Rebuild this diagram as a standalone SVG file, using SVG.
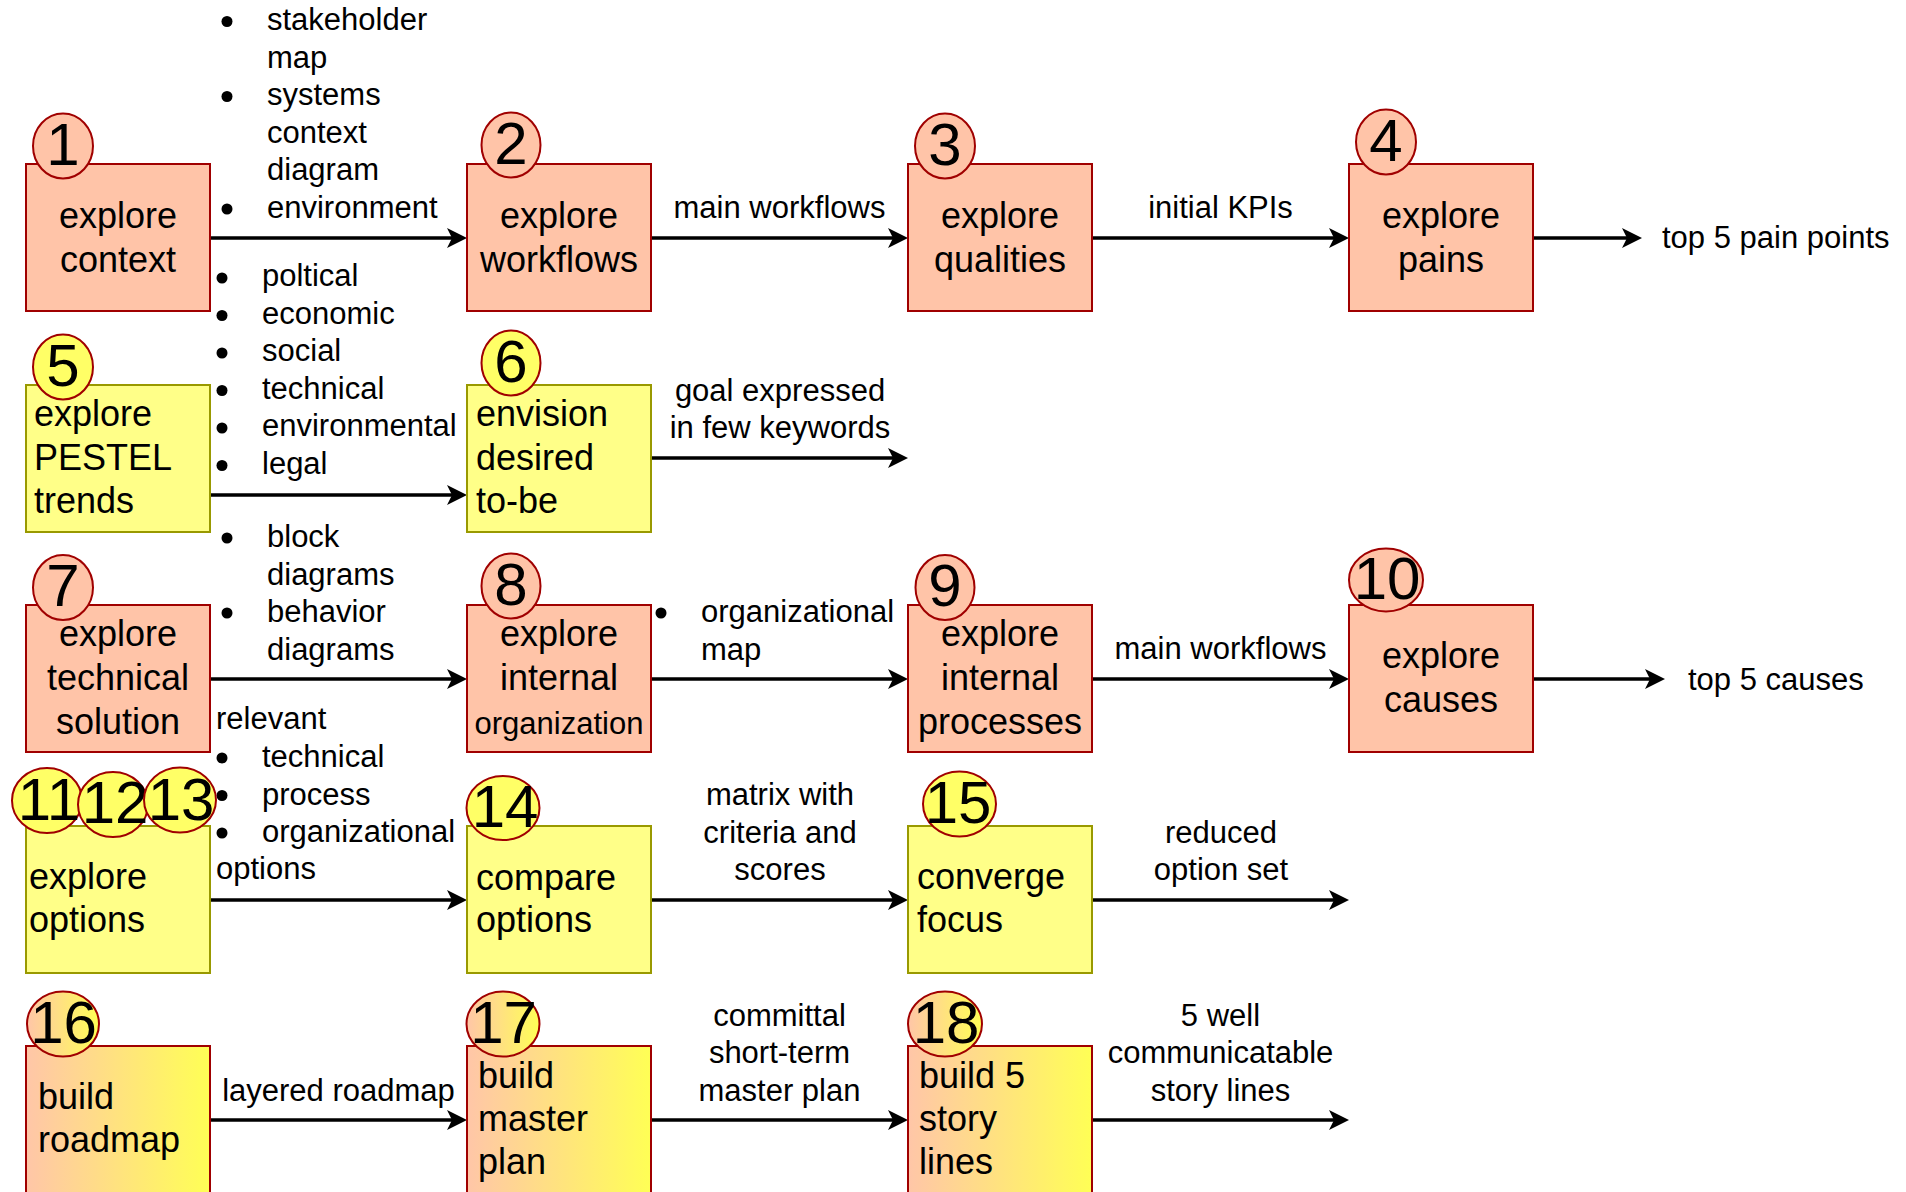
<svg xmlns="http://www.w3.org/2000/svg" width="1906" height="1192" viewBox="0 0 1906 1192">
<defs>
<linearGradient id="grad" x1="0" y1="0" x2="1" y2="0">
<stop offset="0" stop-color="#ffc6a8"/>
<stop offset="1" stop-color="#ffff55"/>
</linearGradient>
<marker id="ah" markerWidth="22" markerHeight="22" refX="10" refY="10" orient="auto" markerUnits="userSpaceOnUse">
<path d="M0,0 L20,10 L0,20 L5,10 z" fill="#000"/>
</marker>
<style>
text{font-family:"Liberation Sans",Arial,sans-serif;fill:#000}
.box-s{fill:#ffc4a8;stroke:#a00000;stroke-width:2}
.box-y{fill:#ffff88;stroke:#999900;stroke-width:2}
.box-g{fill:url(#grad);stroke:#a00000;stroke-width:2}
.c-s{fill:#ffc4a8;stroke:#a00000;stroke-width:2}
.c-y{fill:#ffff66;stroke:#a00000;stroke-width:2}
.c-g{fill:url(#grad);stroke:#a00000;stroke-width:2}
.num{font-size:60px;text-anchor:middle}
.nt{font-size:36px}
.ntc{font-size:36px;text-anchor:middle}
.lb{font-size:31px}
.lbc{font-size:31px;text-anchor:middle}
.arr{stroke:#000;stroke-width:3.5;fill:none;marker-end:url(#ah)}
.bul{fill:#000}
</style>
</defs>
<rect width="1906" height="1192" fill="#fff"/>

<g id="connectors">
<line class="arr" x1="210" y1="238" x2="457" y2="238"/>
<line class="arr" x1="651" y1="238" x2="898" y2="238"/>
<line class="arr" x1="1092" y1="238" x2="1339" y2="238"/>
<line class="arr" x1="1533" y1="238" x2="1632" y2="238"/>
<line class="arr" x1="210" y1="495" x2="457" y2="495"/>
<line class="arr" x1="651" y1="458" x2="898" y2="458"/>
<line class="arr" x1="210" y1="679" x2="457" y2="679"/>
<line class="arr" x1="651" y1="679" x2="898" y2="679"/>
<line class="arr" x1="1092" y1="679" x2="1339" y2="679"/>
<line class="arr" x1="1533" y1="679" x2="1655" y2="679"/>
<line class="arr" x1="210" y1="900" x2="457" y2="900"/>
<line class="arr" x1="651" y1="900" x2="898" y2="900"/>
<line class="arr" x1="1092" y1="900" x2="1339" y2="900"/>
<line class="arr" x1="210" y1="1120" x2="457" y2="1120"/>
<line class="arr" x1="651" y1="1120" x2="898" y2="1120"/>
<line class="arr" x1="1092" y1="1120" x2="1339" y2="1120"/>
</g>

<g id="labels">
<g id="l1-2">
<circle class="bul" cx="227" cy="21.5" r="5.5"/>
<circle class="bul" cx="227" cy="96.5" r="5.5"/>
<circle class="bul" cx="227" cy="209" r="5.5"/>
<text class="lb" x="267" y="30">stakeholder</text>
<text class="lb" x="267" y="67.5">map</text>
<text class="lb" x="267" y="105">systems</text>
<text class="lb" x="267" y="142.5">context</text>
<text class="lb" x="267" y="180">diagram</text>
<text class="lb" x="267" y="217.5">environment</text>
</g>
<text class="lbc" x="779.5" y="218">main workflows</text>
<text class="lbc" x="1220.5" y="218">initial KPIs</text>
<text class="lb" x="1662" y="248">top 5 pain points</text>
<g id="l5-6">
<circle class="bul" cx="222" cy="278" r="5.5"/>
<circle class="bul" cx="222" cy="315.5" r="5.5"/>
<circle class="bul" cx="222" cy="353" r="5.5"/>
<circle class="bul" cx="222" cy="390.5" r="5.5"/>
<circle class="bul" cx="222" cy="428" r="5.5"/>
<circle class="bul" cx="222" cy="465.5" r="5.5"/>
<text class="lb" x="262" y="286">poltical</text>
<text class="lb" x="262" y="323.5">economic</text>
<text class="lb" x="262" y="361">social</text>
<text class="lb" x="262" y="398.5">technical</text>
<text class="lb" x="262" y="436">environmental</text>
<text class="lb" x="262" y="473.5">legal</text>
</g>
<text class="lbc" x="780" y="401">goal expressed</text>
<text class="lbc" x="780" y="438">in few keywords</text>
<g id="l7-8">
<circle class="bul" cx="227" cy="538" r="5.5"/>
<circle class="bul" cx="227" cy="613" r="5.5"/>
<text class="lb" x="267" y="547">block</text>
<text class="lb" x="267" y="584.5">diagrams</text>
<text class="lb" x="267" y="622">behavior</text>
<text class="lb" x="267" y="659.5">diagrams</text>
</g>
<g id="l8-9">
<circle class="bul" cx="661" cy="613" r="5.5"/>
<text class="lb" x="701" y="622">organizational</text>
<text class="lb" x="701" y="659.5">map</text>
</g>
<text class="lbc" x="1220.5" y="659">main workflows</text>
<text class="lb" x="1688" y="690">top 5 causes</text>
<g id="l11-14">
<text class="lb" x="216" y="729">relevant</text>
<circle class="bul" cx="222" cy="758" r="5.5"/>
<circle class="bul" cx="222" cy="795.5" r="5.5"/>
<circle class="bul" cx="222" cy="833" r="5.5"/>
<text class="lb" x="262" y="767">technical</text>
<text class="lb" x="262" y="804.5">process</text>
<text class="lb" x="262" y="842">organizational</text>
<text class="lb" x="216" y="879">options</text>
</g>
<text class="lbc" x="780" y="805">matrix with</text>
<text class="lbc" x="780" y="842.5">criteria and</text>
<text class="lbc" x="780" y="880">scores</text>
<text class="lbc" x="1221" y="843">reduced</text>
<text class="lbc" x="1221" y="880">option set</text>
<text class="lbc" x="338.5" y="1101">layered roadmap</text>
<text class="lbc" x="779.5" y="1026">committal</text>
<text class="lbc" x="779.5" y="1063">short-term</text>
<text class="lbc" x="779.5" y="1100.5">master plan</text>
<text class="lbc" x="1220.5" y="1026">5 well</text>
<text class="lbc" x="1220.5" y="1063">communicatable</text>
<text class="lbc" x="1220.5" y="1100.5">story lines</text>
</g>

<g id="node1">
<rect class="box-s" x="26" y="164" width="184" height="147"/>
<text class="ntc" x="118" y="228">explore</text>
<text class="ntc" x="118" y="272">context</text>
<ellipse class="c-s" cx="63" cy="146" rx="30" ry="32.5"/>
<text class="num" x="63" y="165">1</text>
</g>
<g id="node2">
<rect class="box-s" x="467" y="164" width="184" height="147"/>
<text class="ntc" x="559" y="228">explore</text>
<text class="ntc" x="559" y="272">workflows</text>
<ellipse class="c-s" cx="511" cy="145" rx="29.5" ry="32.5"/>
<text class="num" x="511" y="164">2</text>
</g>
<g id="node3">
<rect class="box-s" x="908" y="164" width="184" height="147"/>
<text class="ntc" x="1000" y="228">explore</text>
<text class="ntc" x="1000" y="272">qualities</text>
<ellipse class="c-s" cx="945" cy="146" rx="30" ry="32.5"/>
<text class="num" x="945" y="165">3</text>
</g>
<g id="node4">
<rect class="box-s" x="1349" y="164" width="184" height="147"/>
<text class="ntc" x="1441" y="228">explore</text>
<text class="ntc" x="1441" y="272">pains</text>
<ellipse class="c-s" cx="1386" cy="142" rx="30" ry="32.5"/>
<text class="num" x="1386" y="161">4</text>
</g>
<g id="node5">
<rect class="box-y" x="26" y="385" width="184" height="147"/>
<text class="nt" x="34" y="426">explore</text>
<text class="nt" x="34" y="469.5">PESTEL</text>
<text class="nt" x="34" y="513">trends</text>
<ellipse class="c-y" cx="63" cy="367" rx="30" ry="32.5"/>
<text class="num" x="63" y="386">5</text>
</g>
<g id="node6">
<rect class="box-y" x="467" y="385" width="184" height="147"/>
<text class="nt" x="476" y="426">envision</text>
<text class="nt" x="476" y="469.5">desired</text>
<text class="nt" x="476" y="513">to-be</text>
<ellipse class="c-y" cx="511" cy="363" rx="29.5" ry="32.5"/>
<text class="num" x="511" y="382">6</text>
</g>
<g id="node7">
<rect class="box-s" x="26" y="605" width="184" height="147"/>
<text class="ntc" x="118" y="646">explore</text>
<text class="ntc" x="118" y="690">technical</text>
<text class="ntc" x="118" y="734">solution</text>
<ellipse class="c-s" cx="63" cy="587.5" rx="30" ry="32.5"/>
<text class="num" x="63" y="606">7</text>
</g>
<g id="node8">
<rect class="box-s" x="467" y="605" width="184" height="147"/>
<text class="ntc" x="559" y="646">explore</text>
<text class="ntc" x="559" y="690">internal</text>
<text class="lbc" x="559" y="734">organization</text>
<ellipse class="c-s" cx="511" cy="586" rx="29.5" ry="32.5"/>
<text class="num" x="511" y="605">8</text>
</g>
<g id="node9">
<rect class="box-s" x="908" y="605" width="184" height="147"/>
<text class="ntc" x="1000" y="646">explore</text>
<text class="ntc" x="1000" y="690">internal</text>
<text class="ntc" x="1000" y="734">processes</text>
<ellipse class="c-s" cx="945" cy="587.5" rx="29.5" ry="32.5"/>
<text class="num" x="945" y="606">9</text>
</g>
<g id="node10">
<rect class="box-s" x="1349" y="605" width="184" height="147"/>
<text class="ntc" x="1441" y="668">explore</text>
<text class="ntc" x="1441" y="712">causes</text>
<ellipse class="c-s" cx="1386" cy="580" rx="37" ry="31.5"/>
<text class="num" x="1387" y="599">10</text>
</g>
<g id="node11-13">
<rect class="box-y" x="26" y="826" width="184" height="147"/>
<text class="nt" x="29" y="889">explore</text>
<text class="nt" x="29" y="932">options</text>
<ellipse class="c-y" cx="47" cy="800.5" rx="35" ry="32.5"/>
<text class="num" x="49" y="820">11</text>
<ellipse class="c-y" cx="113" cy="804.5" rx="35" ry="32.5"/>
<text class="num" x="115" y="823">12</text>
<ellipse class="c-y" cx="180" cy="800" rx="36" ry="32.5"/>
<text class="num" x="181" y="820">13</text>
</g>
<g id="node14">
<rect class="box-y" x="467" y="826" width="184" height="147"/>
<text class="nt" x="476" y="890">compare</text>
<text class="nt" x="476" y="932">options</text>
<ellipse class="c-y" cx="503" cy="808" rx="36.5" ry="32"/>
<text class="num" x="505" y="827">14</text>
</g>
<g id="node15">
<rect class="box-y" x="908" y="826" width="184" height="147"/>
<text class="nt" x="917" y="889">converge</text>
<text class="nt" x="917" y="932">focus</text>
<ellipse class="c-y" cx="959.5" cy="804" rx="36.5" ry="32.5"/>
<text class="num" x="958" y="823">15</text>
</g>
<g id="node16">
<rect class="box-g" x="26" y="1046" width="184" height="160"/>
<text class="nt" x="38" y="1109">build</text>
<text class="nt" x="38" y="1152">roadmap</text>
<ellipse class="c-g" cx="63" cy="1024" rx="36" ry="32.5"/>
<text class="num" x="63.5" y="1043">16</text>
</g>
<g id="node17">
<rect class="box-g" x="467" y="1046" width="184" height="160"/>
<text class="nt" x="478" y="1088">build</text>
<text class="nt" x="478" y="1131">master</text>
<text class="nt" x="478" y="1174">plan</text>
<ellipse class="c-g" cx="503" cy="1024" rx="36.5" ry="32.5"/>
<text class="num" x="503.5" y="1043">17</text>
</g>
<g id="node18">
<rect class="box-g" x="908" y="1046" width="184" height="160"/>
<text class="nt" x="919" y="1088">build 5</text>
<text class="nt" x="919" y="1131">story</text>
<text class="nt" x="919" y="1174">lines</text>
<ellipse class="c-g" cx="945" cy="1024" rx="37" ry="32.5"/>
<text class="num" x="946" y="1043">18</text>
</g>
</svg>
